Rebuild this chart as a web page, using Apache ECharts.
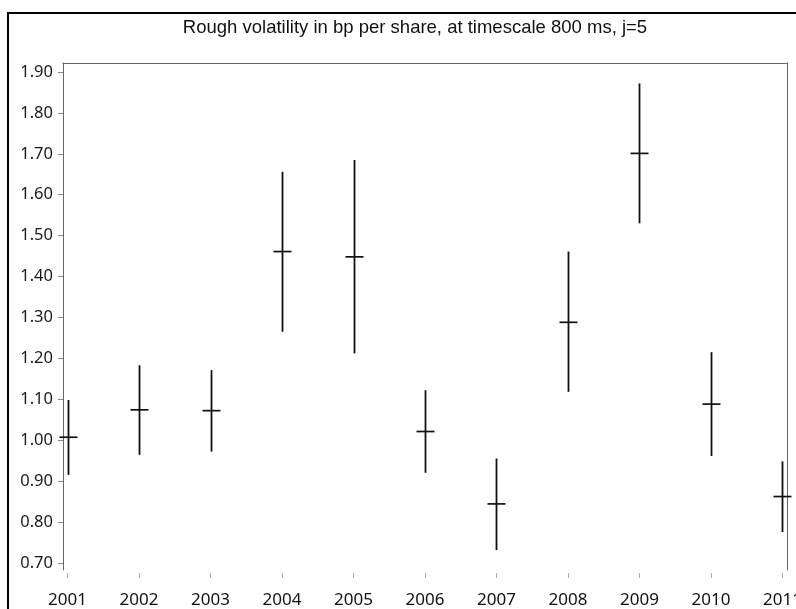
<!DOCTYPE html>
<html>
<head>
<meta charset="utf-8">
<script src="https://cdn.jsdelivr.net/npm/echarts@6/dist/echarts.min.js"></script>
<style>
html,body{margin:0;padding:0;background:#fff;overflow:hidden;}
#chart{width:796px;height:609px;}
</style>
</head>
<body>
<div id="chart"></div>
<script>
const titleText = 'Rough volatility in bp per share, at timescale 800 ms, j=5';
const years = [2001, 2002, 2003, 2004, 2005, 2006, 2007, 2008, 2009, 2010, 2011];
const means = [1.007, 1.074, 1.072, 1.461, 1.448, 1.021, 0.844, 1.288, 1.701, 1.088, 0.862];
const lower = [0.915, 0.964, 0.972, 1.265, 1.212, 0.920, 0.731, 1.118, 1.530, 0.961, 0.775];
const upper = [1.098, 1.183, 1.171, 1.656, 1.685, 1.122, 0.955, 1.461, 1.872, 1.215, 0.948];
const yTicks = [0.70, 0.80, 0.90, 1.00, 1.10, 1.20, 1.30, 1.40, 1.50, 1.60, 1.70, 1.80, 1.90];
const xTicks = years;

const chart = echarts.init(document.getElementById('chart'), null, {renderer: 'canvas'});
const data = years.map((y, i) => [y, means[i], lower[i], upper[i]]);

const option = {
  animation: false,
  backgroundColor: '#fff',
  title: {
    text: titleText,
    left: 410, top: 13, textAlign: 'center',
    textStyle: {fontFamily: 'Liberation Sans', fontSize: 18.5, fontWeight: 'normal', color: '#111'}
  },
  graphic: [{
    type: 'rect', shape: {x: 8, y: 13, width: 820, height: 700},
    style: {fill: 'none', stroke: '#000', lineWidth: 2}, silent: true, z: 100
  }],
  grid: {left: 63, right: 9, top: 63, bottom: 39, containLabel: false, outerBoundsMode: 'none'},
  xAxis: [{
    type: 'value', position: 'bottom', min: 2000.937, max: 2011.063,
    offset: 3,
    axisLine: {show: false},
    splitLine: {show: false},
    axisTick: {show: true, length: 5, customValues: xTicks, lineStyle: {color: '#aaa', width: 1}},
    axisLabel: {customValues: xTicks, margin: 19, color: '#111', fontFamily: 'Noto Sans', fontSize: 17,
      hideOverlap: false, formatter: v => String(Math.round(v))}
  }, {
    type: 'value', position: 'top', min: 2000.937, max: 2011.063,
    axisLine: {show: true, lineStyle: {color: '#666', width: 1}},
    axisTick: {show: false}, axisLabel: {show: false}, splitLine: {show: false}
  }],
  yAxis: [{
    type: 'value', position: 'left', min: 0.6824, max: 1.922,
    axisLine: {show: true, lineStyle: {color: '#666', width: 1}},
    splitLine: {show: false},
    axisTick: {show: true, length: 5, customValues: yTicks, lineStyle: {color: '#888', width: 1}},
    axisLabel: {customValues: yTicks, margin: 10, color: '#1a1a1a', fontFamily: 'Noto Sans', fontSize: 16.5,
      formatter: v => v.toFixed(2)}
  }, {
    type: 'value', position: 'right', min: 0.6824, max: 1.922,
    axisLine: {show: true, lineStyle: {color: '#666', width: 1}},
    axisTick: {show: false}, axisLabel: {show: false}, splitLine: {show: false}
  }],
  series: [{
    type: 'custom',
    xAxisIndex: 0, yAxisIndex: 0,
    clip: false,
    data: data,
    encode: {x: 0, y: [1, 2, 3]},
    renderItem: function (params, api) {
      const x = api.value(0);
      const pm = api.coord([x, api.value(1)]);
      const pl = api.coord([x, api.value(2)]);
      const pu = api.coord([x, api.value(3)]);
      const cx = Math.round(pm[0]) + 0.5;
      return {
        type: 'group',
        children: [{
          type: 'line',
          shape: {x1: cx, y1: pu[1], x2: cx, y2: pl[1]},
          style: {stroke: '#111', lineWidth: 1.8}
        }, {
          type: 'line',
          shape: {x1: cx - 9, y1: pm[1], x2: cx + 9, y2: pm[1]},
          style: {stroke: '#111', lineWidth: 1.7}
        }]
      };
    }
  }]
};
chart.setOption(option);
</script>
</body>
</html>
